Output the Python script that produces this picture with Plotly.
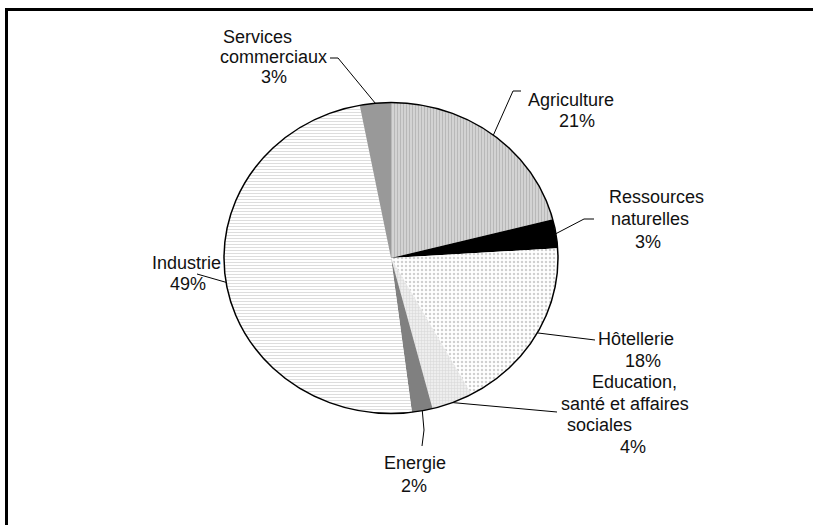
import numpy as np
import plotly.graph_objects as go

# ---- data ----
categories = ["Agriculture", "Ressources naturelles", "Hôtellerie",
              "Education, santé et affaires sociales", "Energie",
              "Industrie", "Services commerciaux"]
label_lines = [["Agriculture"], ["Ressources", "naturelles"], ["Hôtellerie"],
               ["Education,", "santé et affaires", "sociales"], ["Energie"],
               ["Industrie"], ["Services", "commerciaux"]]
values = [21, 3, 18, 4, 2, 49, 3]

# ---- styles / layout positions (pixels) ----
W, H = 813, 525
cx, cy, rx, ry = 391, 258, 167, 155.5
font = dict(family="Liberation Sans, Arial, sans-serif", size=18, color="#111111")

fills = [
    dict(shape="|", bgcolor="#d6d6d6", fgcolor="#9a9a9a", size=3, solidity=0.4),
    dict(shape="", bgcolor="#000000", fgcolor="#000000"),
    dict(shape=".", bgcolor="#ffffff", fgcolor="#a0a0a0", size=4, solidity=0.3),
    dict(shape="+", bgcolor="#eeeeee", fgcolor="#bdbdbd", size=3, solidity=0.3),
    dict(shape="", bgcolor="#808080", fgcolor="#808080"),
    dict(shape="-", bgcolor="#ffffff", fgcolor="#bcbcbc", size=3, solidity=0.35),
    dict(shape="", bgcolor="#999999", fgcolor="#999999"),
]

# label line centers (x, y for each line incl. percentage)
label_pos = [
    [(571, 100), (577, 121)],
    [(656, 197), (650, 219), (648, 242)],
    [(636, 339), (643, 361)],
    [(634, 382), (625, 404), (599, 425), (633, 447)],
    [(415, 463), (414, 486)],
    [(186, 263), (188, 284)],
    [(257, 37), (273, 57), (274, 77)],
]
# leader-line elbow points (after the start on the pie edge)
leader_pts = [
    [(513, 91), (521, 91)],
    [(584, 219), (594, 219)],
    [(595, 340)],
    [(557, 412)],
    [(424, 430), (422, 446)],
    [(197, 274)],
    [(338, 58), (330, 58)],
]

fig = go.Figure()

def pt(theta):
    return cx + rx * np.sin(theta), cy - ry * np.cos(theta)

total = sum(values)
start = 0.0
for i, v in enumerate(values):
    a0 = start / total * 2 * np.pi
    a1 = (start + v) / total * 2 * np.pi
    n = max(4, int(v * 4))
    th = np.linspace(a0, a1, n)
    xs = [cx] + list(cx + rx * np.sin(th)) + [cx]
    ys = [cy] + list(cy - ry * np.cos(th)) + [cy]
    f = fills[i]
    kw = {}
    if f["shape"]:
        kw["fillpattern"] = dict(shape=f["shape"], bgcolor=f["bgcolor"],
                                 fgcolor=f["fgcolor"], size=f["size"],
                                 solidity=f["solidity"])
    fig.add_trace(go.Scatter(x=xs, y=ys, mode="lines", fill="toself",
                             fillcolor=f["bgcolor"], line=dict(width=0),
                             hoverinfo="skip", showlegend=False, **kw))
    # leader line from mid-arc
    mid = (a0 + a1) / 2
    sx, sy = pt(mid)
    lx = [sx] + [p[0] for p in leader_pts[i]]
    ly = [sy] + [p[1] for p in leader_pts[i]]
    fig.add_trace(go.Scatter(x=lx, y=ly, mode="lines",
                             line=dict(color="#000000", width=1),
                             hoverinfo="skip", showlegend=False))
    # labels
    lines = label_lines[i] + [f"{v}%"]
    for txt, (x, y) in zip(lines, label_pos[i]):
        fig.add_annotation(x=x, y=y, text=txt, showarrow=False,
                           xanchor="center", yanchor="middle", font=font)
    start += v

# pie outline
fig.add_shape(type="circle", x0=cx - rx, x1=cx + rx, y0=cy - ry, y1=cy + ry,
              line=dict(color="#000000", width=1.5))
# frame (top and left)
fig.add_shape(type="line", x0=5, x1=W + 5, y0=9.5, y1=9.5,
              line=dict(color="#000000", width=3))
fig.add_shape(type="line", x0=6.5, x1=6.5, y0=8, y1=H + 5,
              line=dict(color="#000000", width=3))

fig.update_layout(
    width=W, height=H, margin=dict(l=0, r=0, t=0, b=0),
    paper_bgcolor="#ffffff", plot_bgcolor="#ffffff",
    xaxis=dict(range=[0, W], visible=False, fixedrange=True),
    yaxis=dict(range=[H, 0], visible=False, fixedrange=True),
    showlegend=False,
)
fig.write_html("out.html", config={"displayModeBar": False},
               post_script="document.body.style.margin='0';document.body.style.overflow='hidden';")
